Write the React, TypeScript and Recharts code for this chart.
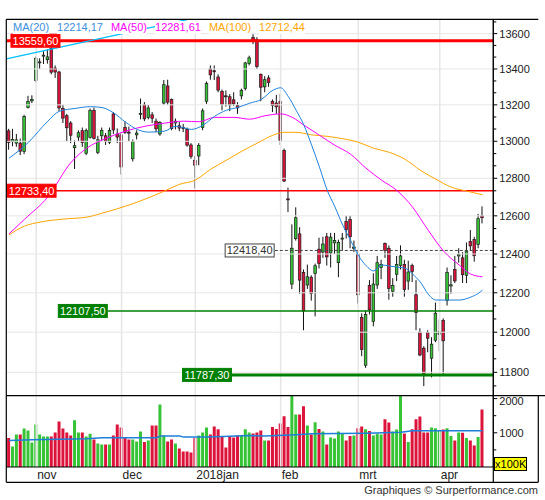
import React from 'react';
import {
  ComposedChart, Bar, Line, Cell,
  XAxis, YAxis, ReferenceLine, ReferenceDot,
} from 'recharts';

// daily candles, 23 Oct 2017 .. 18 Apr 2018 (index = trading day)
const OPEN = [
  13057, 12998, 12990, 12990, 12945, 13185, 13222, 13335, 13435, 13476,
  13452, 13515, 13405, 13383, 13180, 13140, 13100, 12965, 13023, 13058,
  12935, 13020, 13170, 12940, 13030, 13030, 12995, 13150, 13040, 13035,
  13075, 13050, 12905, 13035, 13148, 13200, 13130, 13145, 13110, 13040,
  13210, 13305, 13230, 13100, 13085, 13075, 13065, 12980, 12897, 12920,
  13075, 13220, 13400, 13390, 13355, 13275, 13250, 13245, 13228, 13197,
  13250, 13290, 13430, 13578, 13565, 13370, 13300, 13350, 13220, 13210,
  13220, 12950, 12690, 12245, 12480, 12505, 12305, 12240, 12280, 12300,
  12425, 12410, 12490, 12405, 12458, 12355, 12480, 12570, 12580, 12430,
  12400, 12075, 11835, 12237, 12055, 12240, 12330, 12455, 12430, 12208,
  12295, 12340, 12345, 12260, 12340, 12190, 12000, 11920, 11998, 11870,
  11960, 11990, 12060, 12160, 12235, 12320, 12390, 12380, 12290, 12465,
  12475, 12450, 12600,
];
const HIGH = [
  13068, 13068, 13040, 13015, 13145, 13250, 13253, 13470, 13460, 13500,
  13510, 13525, 13420, 13390, 13200, 13150, 13110, 13005, 13060, 13075,
  13070, 13180, 13185, 13030, 13075, 13045, 13075, 13160, 13070, 13045,
  13110, 13080, 13010, 13060, 13235, 13215, 13200, 13160, 13125, 13110,
  13338, 13340, 13235, 13125, 13105, 13095, 13075, 12990, 12920, 12990,
  13180, 13330, 13420, 13420, 13370, 13285, 13280, 13260, 13270, 13215,
  13290, 13440, 13475, 13597, 13580, 13375, 13360, 13365, 13230, 13255,
  13260, 12960, 12750, 12555, 12645, 12540, 12320, 12345, 12290, 12350,
  12485, 12490, 12510, 12510, 12510, 12475, 12510, 12600, 12600, 12470,
  12420, 12095, 12110, 12265, 12300, 12390, 12370, 12460, 12445, 12275,
  12390, 12445, 12370, 12365, 12350, 12265, 12020, 11930, 12010, 11975,
  12150, 12065, 12070, 12330, 12290, 12390, 12430, 12410, 12460, 12525,
  12490, 12610, 12650,
];
const LOW = [
  12954, 12973, 12970, 12925, 12930, 13180, 13210, 13328, 13400, 13428,
  13430, 13370, 13350, 13165, 13100, 13000, 12990, 12850, 13000, 12970,
  12925, 13015, 13010, 12930, 13000, 12980, 12985, 13040, 12990, 12820,
  13040, 13000, 12890, 13010, 13120, 13110, 13120, 13100, 13050, 13030,
  13200, 13200, 13060, 13065, 13055, 13050, 12970, 12905, 12745, 12870,
  13060, 13205, 13340, 13338, 13270, 13170, 13190, 13165, 13195, 13150,
  13230, 13280, 13420, 13540, 13400, 13220, 13270, 13300, 13160, 13150,
  12980, 12780, 12620, 12219, 12470, 12195, 12010, 12220, 12160, 12080,
  12325, 12380, 12340, 12330, 12400, 12280, 12420, 12480, 12430, 12410,
  12145, 11880, 11822, 12090, 12030, 12220, 12270, 12380, 12165, 12180,
  12260, 12320, 12180, 12215, 12255, 12010, 11880, 11732, 11900, 11775,
  11950, 11905, 11790, 12135, 12195, 12250, 12355, 12250, 12250, 12420,
  12360, 12430, 12560,
];
const CLOSE = [
  12994, 13010, 13008, 12946, 13135, 13218, 13229, 13460, 13440, 13478,
  13468, 13382, 13383, 13183, 13127, 13074, 13033, 12976, 13047, 12993,
  13059, 13168, 13015, 13008, 13060, 13000, 13059, 13062, 13023, 12861,
  13048, 13048, 12998, 13045, 13153, 13123, 13183, 13126, 13068, 13103,
  13312, 13215, 13069, 13110, 13072, 13070, 12979, 12918, 12871, 12978,
  13167, 13320, 13367, 13385, 13282, 13202, 13245, 13200, 13205, 13183,
  13281, 13434, 13463, 13560, 13414, 13298, 13340, 13324, 13197, 13189,
  13004, 12785, 12687, 12430, 12590, 12265, 12107, 12282, 12196, 12339,
  12350, 12452, 12385, 12488, 12470, 12460, 12483, 12527, 12490, 12436,
  12190, 11913, 12090, 12113, 12245, 12355, 12346, 12418, 12222, 12237,
  12345, 12390, 12217, 12307, 12309, 12100, 11886, 11787, 11970, 11940,
  12096, 12002, 11957, 12305, 12241, 12261, 12397, 12293, 12415, 12442,
  12391, 12585, 12590,
];
// volume, in units of 100K
const VOLUME = [
  845, 602, 951, 951, 1126, 1068, 718, 1243, 951, 893,
  893, 893, 1010, 1330, 1126, 1010, 922, 1369, 1010, 1010,
  893, 971, 806, 689, 660, 660, 660, 922, 1243, 1155,
  854, 806, 806, 748, 1039, 728, 777, 1214, 1214, 1825,
  922, 748, 806, 689, 544, 456, 456, 427, 845, 922,
  1010, 1155, 951, 1184, 1107, 893, 573, 893, 864, 922,
  922, 1107, 1010, 981, 1010, 1068, 777, 777, 1172, 1114,
  1269, 1483, 1172, 2150, 1534, 1534, 1777, 1214, 951, 1311,
  1114, 1039, 660, 864, 835, 1039, 971, 777, 903, 922,
  1136, 1184, 1107, 1049, 922, 971, 951, 1398, 1301, 1039,
  1097, 2150, 981, 728, 1107, 1398, 1476, 1010, 1010, 1155,
  1136, 1080, 1097, 1136, 903, 777, 1010, 1000, 845, 777,
  631, 874, 1680,
];

// moving averages: [day index, value]
const MA20: [number, number][] = [
  [0, 12908], [5, 12994], [10, 13110], [13, 13165], [17, 13180], [21, 13190],
  [24, 13185], [27, 13155], [30, 13105], [33, 13065], [36, 13050], [40, 13055],
  [43, 13082], [47, 13065], [50, 13088], [53, 13137], [56, 13170], [59, 13186],
  [62, 13209], [65, 13230], [68, 13281], [70, 13295], [72, 13245], [74, 13170],
  [76, 13088], [78, 12978], [80, 12860], [82, 12736], [84, 12647], [86, 12551],
  [88, 12472], [90, 12394], [92, 12340], [94, 12312], [96, 12343], [98, 12338],
  [100, 12332], [102, 12327], [104, 12296], [106, 12255], [108, 12194], [110, 12163],
  [113, 12163], [116, 12163], [119, 12178], [121, 12198], [122, 12214],
];
const MA50: [number, number][] = [
  [0, 12505], [4, 12582], [10, 12700], [16, 12886], [20, 12962], [25, 13016],
  [30, 13055], [35, 13082], [40, 13099], [45, 13110], [49, 13107], [53, 13131],
  [58, 13131], [62, 13121], [66, 13140], [70, 13150], [73, 13131], [76, 13088],
  [80, 13033], [84, 12978], [88, 12930], [92, 12854], [96, 12790], [100, 12734],
  [104, 12646], [108, 12525], [112, 12415], [116, 12343], [119, 12296], [122, 12282],
];
const MA100: [number, number][] = [
  [0, 12500], [4, 12546], [8, 12567], [14, 12583], [20, 12593], [25, 12620],
  [30, 12651], [35, 12688], [40, 12731], [44, 12768], [48, 12790], [52, 12849],
  [56, 12897], [60, 12946], [64, 12990], [68, 13033], [71, 13049], [74, 13049],
  [78, 13035], [82, 13027], [86, 13014], [90, 12995], [94, 12962], [98, 12940],
  [102, 12903], [106, 12843], [110, 12795], [114, 12752], [118, 12731], [122, 12712],
];
const VOL_MA: [number, number][] = [
  [0, 777], [6, 796], [20, 825], [24, 854], [38, 854], [39, 903], [44, 903],
  [45, 874], [51, 874], [55, 893], [62, 922], [66, 903], [74, 942], [78, 971],
  [92, 990], [101, 1019], [104, 1058], [122, 1058],
];

// trend line (start, end) as [day index, price]
const TREND: [number, number][] = [[-0.7, 13457], [45.9, 13680]];

const MONTH_AT = [7, 29, 48, 70, 90, 111];
const MONTH_LABELS = ['nov', 'dec', '2018jan', 'feb', 'mrt', 'apr'];

const PRICE_TICKS = [11800, 12000, 12200, 12400, 12600, 12800, 13000, 13200, 13400, 13600];
const PRICE_MINOR = [
  11733, 11867, 11933, 12067, 12133, 12267, 12333, 12467, 12533, 12667,
  12733, 12867, 12933, 13067, 13133, 13267, 13333, 13467, 13533, 13667,
];
const VOL_TICKS = [1000, 2000];
const VOL_MINOR = [500, 1500];

const LEVELS = [
  { price: 13559.6, text: '13559,60', labelAt: 0.5, from: -0.7, stroke: '#ff0000', sw: 3, box: '#ff0000', ink: '#fff', border: '#ff0000', dash: undefined },
  { price: 12733.4, text: '12733,40', labelAt: -0.5, from: -0.7, stroke: '#ff0000', sw: 1.5, box: '#ff0000', ink: '#fff', border: '#ff0000', dash: undefined },
  { price: 12418.4, text: '12418,40', labelAt: 55.7, from: 68.5, stroke: '#444', sw: 1, box: '#fff', ink: '#333', border: '#444', dash: '3 2' },
  { price: 12107.5, text: '12107,50', labelAt: 12.7, from: 25.5, stroke: '#008000', sw: 1.5, box: '#008000', ink: '#fff', border: '#008000', dash: undefined },
  { price: 11787.3, text: '11787,30', labelAt: 44.7, from: 57.2, stroke: '#008000', sw: 3, box: '#008000', ink: '#fff', border: '#008000', dash: undefined },
];

const LEGEND = [
  { name: 'MA(20)', value: '12214,17', color: '#3b8fdc' },
  { name: 'MA(50)', value: '12281,61', color: '#ff00ff' },
  { name: 'MA(100)', value: '12712,44', color: '#ffa500' },
];

const X_DOMAIN: [number, number] = [-0.7, 124.8];
const PRICE_DOMAIN: [number, number] = [11685, 13682];
const VOL_DOMAIN: [number, number] = [0, 2076];

const GREEN = '#36c436';
const RED = '#dc143c';
const GRID = '#e6e6e6';
const FONT = '"Liberation Sans", Arial, sans-serif';

const m20 = new Map(MA20);
const m50 = new Map(MA50);
const m100 = new Map(MA100);
const mv = new Map(VOL_MA);

const rows = OPEN.map((o, i) => ({
  i,
  open: o,
  high: HIGH[i],
  low: LOW[i],
  close: CLOSE[i],
  vol: VOLUME[i],
  ma20: m20.get(i) ?? null,
  ma50: m50.get(i) ?? null,
  ma100: m100.get(i) ?? null,
  volMa: mv.get(i) ?? null,
}));

function Candle(props: any) {
  const { x, y, width, height, payload } = props;
  if (x == null || !payload) return null;
  let top = y;
  let h = height;
  if (h < 0) { top = y + h; h = -h; }
  const cx = x + width / 2;
  const lh = Math.log(payload.high);
  const ll = Math.log(payload.low);
  const at = (v: number) => top + (h * (lh - Math.log(v))) / (lh - ll || 1);
  const up = payload.close >= payload.open;
  const y1 = at(Math.max(payload.open, payload.close));
  const y2 = at(Math.min(payload.open, payload.close));
  return (
    <g>
      <line x1={cx} x2={cx} y1={top} y2={top + h} stroke="#111" strokeWidth={1} />
      <rect x={cx - 1.3} y={y1} width={2.6} height={Math.max(y2 - y1, 1)}
        fill={up ? GREEN : RED} stroke="#1a1a1a" strokeWidth={0.7} />
    </g>
  );
}

function PriceTick(props: any) {
  const { x, y, payload } = props;
  const major = PRICE_TICKS.includes(payload.value);
  return (
    <g>
      <line x1={x} x2={x + (major ? 4 : 3)} y1={y} y2={y} stroke="#000" />
      {major && (
        <text x={x + 6} y={y + 4} fontSize={11} fontFamily={FONT} fill="#222">{payload.value}</text>
      )}
    </g>
  );
}

function VolTick(props: any) {
  const { x, y, payload } = props;
  const major = VOL_TICKS.includes(payload.value);
  // the top label sits right under the panel edge
  const dy = payload.value === VOL_DOMAIN[1] || payload.value === 2000 ? 6.5 : 4;
  return (
    <g>
      <line x1={x} x2={x + (major ? 4 : 3)} y1={y} y2={y} stroke="#000" />
      {major && (
        <text x={x + 6} y={y + dy} fontSize={11} fontFamily={FONT} fill="#222">{payload.value}</text>
      )}
    </g>
  );
}

function MonthTick(props: any) {
  const { x, y, payload } = props;
  const k = MONTH_AT.indexOf(payload.value);
  return (
    <text x={x + 1} y={y + 11.8} fontSize={12} fontFamily={FONT} fill="#222" textAnchor="start">
      {MONTH_LABELS[k]}
    </text>
  );
}

function LevelLabel(lv: typeof LEVELS[number]) {
  return (props: any) => {
    const { cx, cy } = props;
    if (cx == null || cy == null) return null;
    return (
      <g>
        <rect x={cx} y={cy - 6.5} width={49} height={13} fill={lv.box} stroke={lv.border} strokeWidth={1} />
        <text x={cx + 24.5} y={cy + 4} textAnchor="middle" fontSize={11} fontFamily={FONT} fill={lv.ink}>{lv.text}</text>
      </g>
    );
  };
}

export default function App() {
  return (
    <div style={{ position: 'absolute', left: 0, top: 0, width: 545, height: 500, background: '#fff', fontFamily: FONT }}>
      <div style={{ position: 'absolute', left: 0, top: 0 }}>
        <ComposedChart width={545} height={395.7} data={rows}
          margin={{ top: 19.3, right: 0, bottom: 0, left: 6.3 }}>
          <XAxis type="number" dataKey="i" domain={X_DOMAIN} allowDataOverflow hide />
          <YAxis orientation="right" scale="log" domain={PRICE_DOMAIN} allowDataOverflow
            ticks={[...PRICE_TICKS, ...PRICE_MINOR]} interval={0} tick={<PriceTick />}
            tickLine={false} tickSize={0} tickMargin={0} width={51.7}
            axisLine={{ stroke: '#000' }} />
          {PRICE_TICKS.map((v) => (
            <ReferenceLine key={'h' + v} y={v} stroke={GRID} strokeWidth={1} />
          ))}
          {MONTH_AT.map((m) => (
            <ReferenceLine key={'v' + m} x={m} stroke={GRID} strokeWidth={1.5} />
          ))}
          {LEVELS.map((lv) => (
            <ReferenceLine key={'l' + lv.price}
              segment={[{ x: lv.from, y: lv.price }, { x: X_DOMAIN[1], y: lv.price }]}
              stroke={lv.stroke} strokeWidth={lv.sw} strokeDasharray={lv.dash} ifOverflow="visible" />
          ))}
          <Bar dataKey={(d: any) => [d.low, d.high]} barSize={3} shape={(p: any) => <Candle {...p} />}
            isAnimationActive={false} />
          <Line dataKey="ma100" type="monotone" stroke="#ffa500" strokeWidth={1} dot={false}
            connectNulls isAnimationActive={false} />
          <Line dataKey="ma50" type="monotone" stroke="#ff00ff" strokeWidth={1} dot={false}
            connectNulls isAnimationActive={false} />
          <Line dataKey="ma20" type="monotone" stroke="#1e82dc" strokeWidth={1} dot={false}
            connectNulls isAnimationActive={false} />
          <ReferenceLine segment={[{ x: TREND[0][0], y: TREND[0][1] }, { x: TREND[1][0], y: TREND[1][1] }]}
            stroke="#00bfff" strokeWidth={1.2} ifOverflow="visible" />
          {LEVELS.map((lv) => (
            <ReferenceDot key={'d' + lv.price} x={lv.labelAt} y={lv.price} r={0}
              ifOverflow="visible" shape={LevelLabel(lv)} />
          ))}
        </ComposedChart>
      </div>

      <div style={{ position: 'absolute', left: 0, top: 395.7 }}>
        <ComposedChart width={545} height={86.6} data={rows}
          margin={{ top: 0, right: 0, bottom: 0, left: 6.3 }}>
          <XAxis type="number" dataKey="i" domain={X_DOMAIN} allowDataOverflow
            ticks={MONTH_AT} interval={0} tick={<MonthTick />} tickLine={false}
            tickSize={0} tickMargin={0} height={15.6} axisLine={{ stroke: '#000' }} />
          <YAxis orientation="right" domain={VOL_DOMAIN} allowDataOverflow
            ticks={[...VOL_MINOR, ...VOL_TICKS]} interval={0} tick={<VolTick />}
            tickLine={false} tickSize={0} tickMargin={0} width={51.7}
            axisLine={{ stroke: '#000' }} />
          {MONTH_AT.map((m) => (
            <ReferenceLine key={'vv' + m} x={m} stroke={GRID} strokeWidth={1.5} />
          ))}
          <Bar dataKey="vol" barSize={3} isAnimationActive={false}>
            {rows.map((r) => (
              <Cell key={r.i} fill={r.close >= r.open ? GREEN : RED} />
            ))}
          </Bar>
          <Line dataKey="volMa" type="linear" stroke="#1e7fd8" strokeWidth={1.5} dot={false}
            connectNulls isAnimationActive={false} />
        </ComposedChart>
      </div>

      {/* frame */}
      <svg width={545} height={500} style={{ position: 'absolute', left: 0, top: 0, pointerEvents: 'none' }}>
        <g stroke="#000" strokeWidth={1.2} fill="none">
          <line x1={6.3} x2={538.3} y1={19.3} y2={19.3} />
          <line x1={6.3} x2={6.3} y1={19.3} y2={482.3} />
          <line x1={6.3} x2={538.3} y1={482.3} y2={482.3} />
          <line x1={538.3} x2={538.3} y1={395.7} y2={482.3} />
          <line x1={6.3} x2={545} y1={395.7} y2={395.7} />
          <line x1={493.3} x2={493.3} y1={19.3} y2={482.3} />
        </g>
      </svg>

      {/* legend: each text sits on white, so the trend line shows only in the gaps */}
      <div style={{ position: 'absolute', left: 13, top: 20.5, display: 'flex', gap: 8, fontSize: 11, lineHeight: '13px', whiteSpace: 'nowrap' }}>
        {LEGEND.map((l) => (
          <React.Fragment key={l.name}>
            <span style={{ color: l.color, background: '#fff' }}>{l.name}</span>
            <span style={{ color: l.color, background: '#fff' }}>{l.value}</span>
          </React.Fragment>
        ))}
      </div>

      <div style={{ position: 'absolute', left: 494, top: 456.7, width: 33.3, height: 14, boxSizing: 'border-box',
        background: '#ffff00', border: '1px solid #000', fontSize: 11, lineHeight: '12px', textAlign: 'center' }}>
        x100K
      </div>

      <div style={{ position: 'absolute', right: 7, top: 484, fontSize: 11, color: '#333', whiteSpace: 'nowrap' }}>
        Graphiques © Surperformance.com
      </div>
    </div>
  );
}
